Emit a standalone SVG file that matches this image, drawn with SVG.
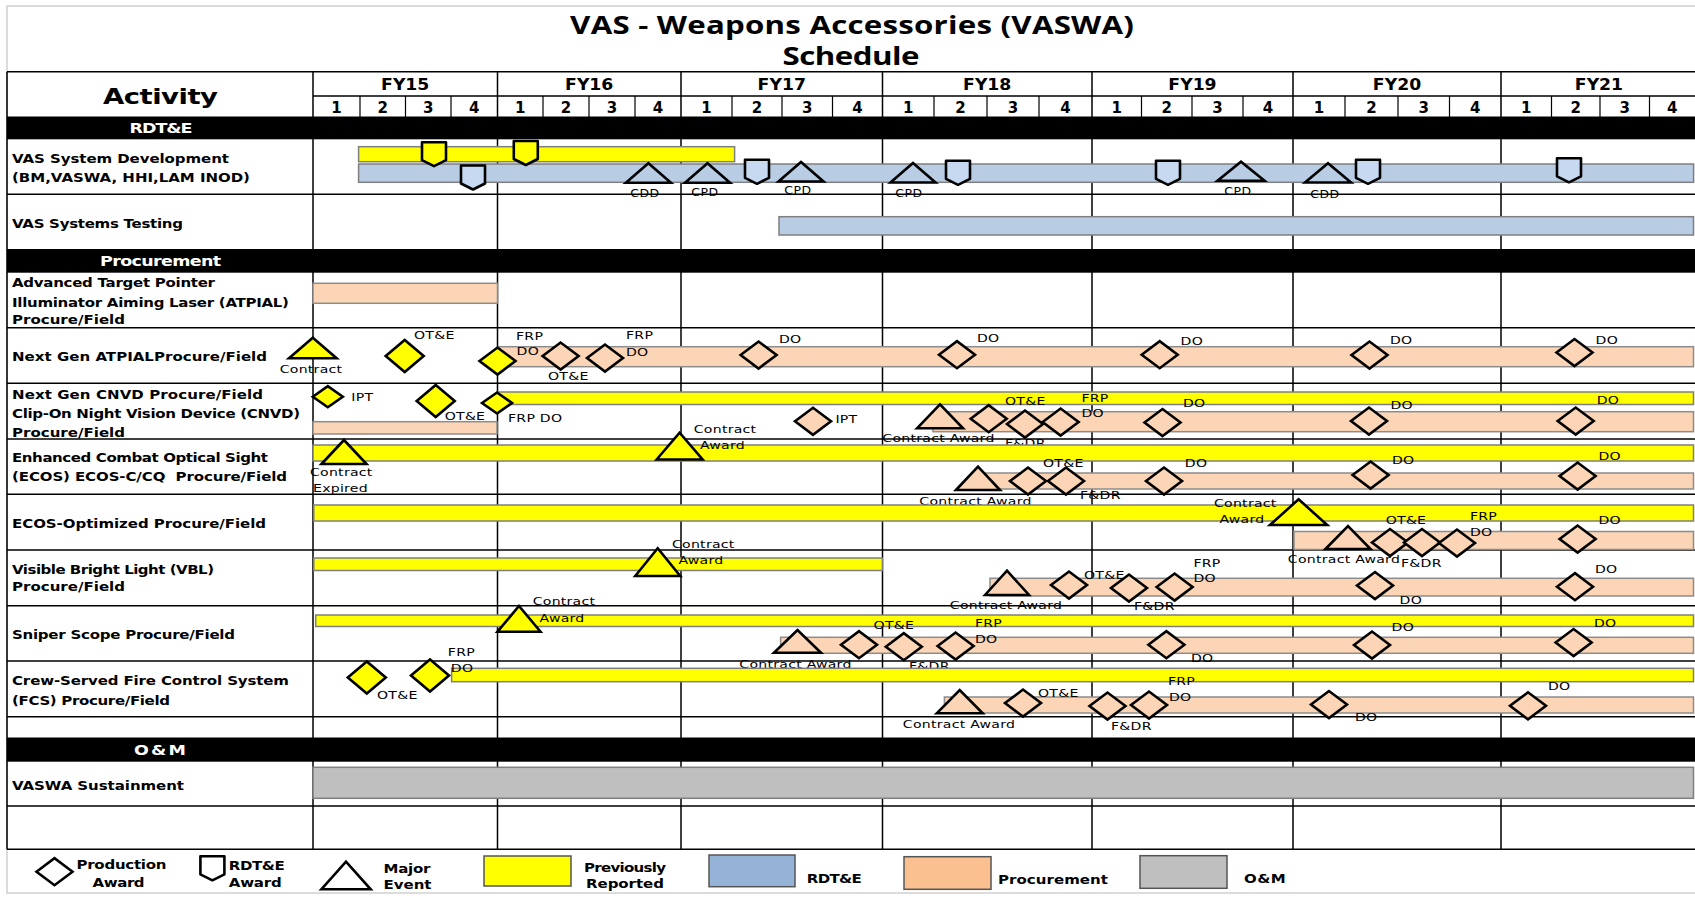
<svg xmlns="http://www.w3.org/2000/svg" width="1695" height="900" viewBox="0 0 1695 900">
<style>
text{font-family:"DejaVu Sans","Liberation Sans",sans-serif;fill:#000}
.ttl{font-family:"Open Sans","DejaVu Sans",sans-serif;font-weight:700;font-size:25px;text-anchor:middle}
.act{font-weight:700;font-size:22px;text-anchor:middle}
.fyl{font-weight:700;font-size:15px;text-anchor:middle;transform-box:fill-box;transform-origin:50% 50%;transform:scale(1.15,1)}
.q{font-weight:700;font-size:15px;text-anchor:middle}
.sec{font-weight:700;font-size:14px;text-anchor:middle;fill:#fff}
.lbl{font-weight:700;font-size:12px}
.sm{font-size:11px;letter-spacing:0.2px;transform-box:fill-box;transform-origin:0 0;transform:scale(1.28,1)}
.sm.mid{text-anchor:middle;transform-origin:50% 50%}
.xs{font-size:10px;letter-spacing:0.4px;text-anchor:middle;transform-box:fill-box;transform-origin:50% 50%;transform:scale(1.25,1)}
.mid{text-anchor:middle}
.lg{font-weight:700;font-size:12px}
.ttl,.act,.sec,.lbl,.lg{transform:scale(1.25,1)}
.ln{stroke:#000;stroke-width:1.5;fill:none}
.lq{stroke:#000;stroke-width:1.2;fill:none}
.by{fill:#ffff00;stroke:#7f7f7f;stroke-width:1.5}
.bb{fill:#b8cce4;stroke:#7f7f7f;stroke-width:1.5}
.bp{fill:#fbd5b5;stroke:#8c8c8c;stroke-width:1.5}
.bg{fill:#bfbfbf;stroke:#7f7f7f;stroke-width:1.5}
.mk{stroke:#000;stroke-width:2.6;stroke-linejoin:miter}
.sk{stroke:#000;stroke-width:2.6;stroke-linejoin:round}
.cy{fill:#ffff00}.cb{fill:#c6d9f1}.cbt{fill:#b8cce4}.cp{fill:#fbd5b5}.cw{fill:#fff}
</style>
<defs>
<path id="dp" d="M-18,0L0,-13.5L18,0L0,13.5Z" class="mk"/>
<path id="dy" d="M-19,0L0,-16L19,0L0,16Z" class="mk"/>
<path id="ds" d="M-15,0L0,-10.5L15,0L0,10.5Z" class="mk"/>
<path id="sh" d="M-12,-12H12V6L0,12L-12,6Z" class="sk"/>
</defs>

<g id="frame">
<rect x="7" y="6" width="1700" height="887" fill="#fff" stroke="#d0d0d0" stroke-width="1.5"/>
<text class="ttl" x="681.6" y="34.5" textLength="451">VAS - Weapons Accessories (VASWA)</text>
<text class="ttl" x="680.8" y="65.5" textLength="109.6">Schedule</text>
</g>

<g id="grid">
<path class="ln" d="M7,71.7H1700M313,96H1700M7,117.3H1700M7,194.3H1700M7,249.8H1700M7,327.7H1700M7,383.3H1700M7,439H1700M7,494.3H1700M7,550H1700M7,605.7H1700M7,661H1700M7,716.7H1700M7,738.3H1700M7,806H1700M7,849.3H1700"/>
<path class="ln" d="M7,71.7V849.3M313,71.7V849.3M497.5,71.7V849.3M681,71.7V849.3M882.5,71.7V849.3M1092,71.7V849.3M1293,71.7V849.3M1501,71.7V849.3"/>
<path class="lq" d="M360,96V117.3M405.5,96V117.3M451,96V117.3M543,96V117.3M589,96V117.3M635,96V117.3M732,96V117.3M782,96V117.3M832.5,96V117.3M934,96V117.3M987,96V117.3M1039,96V117.3M1141.5,96V117.3M1192,96V117.3M1243,96V117.3M1345,96V117.3M1398,96V117.3M1449.5,96V117.3M1551.5,96V117.3M1600,96V117.3M1649.5,96V117.3"/>
<rect x="7" y="117.3" width="1693" height="22" fill="#000"/>
<rect x="7" y="249.8" width="1693" height="22.9" fill="#000"/>
<rect x="7" y="738.3" width="1693" height="23.4" fill="#000"/>
</g>

<g id="header">
<text class="act" x="128.4" y="104" textLength="92">Activity</text>
<text class="fyl" x="405.25" y="90.5">FY15</text>
<text class="fyl" x="589.25" y="90.5">FY16</text>
<text class="fyl" x="781.75" y="90.5">FY17</text>
<text class="fyl" x="987.25" y="90.5">FY18</text>
<text class="fyl" x="1192.5" y="90.5">FY19</text>
<text class="fyl" x="1397" y="90.5">FY20</text>
<text class="fyl" x="1599" y="90.5">FY21</text>
<g class="q">
<text x="336.5" y="113">1</text><text x="382.75" y="113">2</text><text x="428.25" y="113">3</text><text x="474.25" y="113">4</text>
<text x="520.25" y="113">1</text><text x="566" y="113">2</text><text x="612" y="113">3</text><text x="658" y="113">4</text>
<text x="706.5" y="113">1</text><text x="757" y="113">2</text><text x="807.25" y="113">3</text><text x="857.5" y="113">4</text>
<text x="908.25" y="113">1</text><text x="960.5" y="113">2</text><text x="1013" y="113">3</text><text x="1065.5" y="113">4</text>
<text x="1116.75" y="113">1</text><text x="1166.75" y="113">2</text><text x="1217.5" y="113">3</text><text x="1268" y="113">4</text>
<text x="1319" y="113">1</text><text x="1371.5" y="113">2</text><text x="1423.75" y="113">3</text><text x="1475.25" y="113">4</text>
<text x="1526.25" y="113">1</text><text x="1575.75" y="113">2</text><text x="1624.75" y="113">3</text><text x="1672.25" y="113">4</text>
</g>
<text class="sec" x="128.8" y="133.5" textLength="50.4">RDT&amp;E</text>
<text class="sec" x="128.5" y="266" textLength="96.8">Procurement</text>
<text class="sec" x="128" y="755" textLength="41.6">O&amp;M</text>
</g>

<g id="row-vas-dev">
<text class="lbl" x="9.6" y="163" textLength="173.6">VAS System Development</text>
<text class="lbl" x="9.6" y="182" textLength="190.4">(BM,VASWA, HHI,LAM INOD)</text>
<rect class="by" x="358.6" y="146.7" width="376" height="15"/>
<rect class="bb" x="358.6" y="164" width="1335" height="18.3"/>
<use href="#sh" x="434" y="154.2" class="cy"/>
<use href="#sh" x="525.8" y="153" class="cy"/>
<use href="#sh" x="473" y="177.5" class="cb"/>
<polygon class="mk cbt" points="625.9,182.7 648.4,163.3 670.9,182.7"/>
<polygon class="mk cbt" points="685,182.7 707.5,163.3 730,182.7"/>
<use href="#sh" x="757" y="171.8" class="cb"/>
<polygon class="mk cbt" points="778.5,181.5 801,162 823.5,181.5"/>
<polygon class="mk cbt" points="890.5,182.5 913,163 935.5,182.5"/>
<use href="#sh" x="958" y="172.8" class="cb"/>
<use href="#sh" x="1168" y="172.8" class="cb"/>
<polygon class="mk cbt" points="1217.5,180.7 1241,161.7 1264.5,180.7"/>
<polygon class="mk cbt" points="1305,182.5 1328,163.3 1351,182.5"/>
<use href="#sh" x="1368" y="171.8" class="cb"/>
<use href="#sh" x="1569" y="170.3" class="cb"/>
<text class="xs" x="645" y="197.5">CDD</text>
<text class="xs" x="705" y="196.5">CPD</text>
<text class="xs" x="798" y="194">CPD</text>
<text class="xs" x="909" y="197">CPD</text>
<text class="xs" x="1238" y="195">CPD</text>
<text class="xs" x="1325" y="198">CDD</text>
</g>

<g id="row-vas-test">
<text class="lbl" x="9.6" y="228" textLength="136.8">VAS Systems Testing</text>
<rect class="bb" x="779" y="216.7" width="914.5" height="18.3"/>
</g>

<g id="row-atpial">
<text class="lbl" x="9.6" y="287.5" textLength="162.4">Advanced Target Pointer</text>
<text class="lbl" x="9.6" y="307" textLength="221.6">Illuminator Aiming Laser (ATPIAL)</text>
<text class="lbl" x="9.6" y="324" textLength="90.4">Procure/Field</text>
<rect class="bp" x="313" y="283.3" width="184.5" height="20"/>
</g>

<g id="row-ng-atpial">
<text class="lbl" x="9.6" y="361.5" textLength="204">Next Gen ATPIALProcure/Field</text>
<rect class="bp" x="497.5" y="346.7" width="1196" height="20"/>
<polygon class="mk cy" points="289,358.3 312.8,337.7 336.6,358.3"/>
<use href="#dy" x="404.7" y="356" class="cy"/>
<use href="#dp" x="497.5" y="361" class="cy"/>
<use href="#dp" x="560.6" y="356" class="cp"/>
<use href="#dp" x="605" y="358" class="cp"/>
<use href="#dp" x="758.6" y="355" class="cp"/>
<use href="#dp" x="957" y="354.7" class="cp"/>
<use href="#dp" x="1159.7" y="354.7" class="cp"/>
<use href="#dp" x="1369.5" y="355" class="cp"/>
<use href="#dp" x="1574.5" y="352.5" class="cp"/>
<text class="sm mid" x="311" y="373.3">Contract</text>
<text class="sm" x="414" y="339.3">OT&amp;E</text>
<text class="sm" x="516" y="340">FRP</text>
<text class="sm" x="516.6" y="355">DO</text>
<text class="sm" x="548" y="380">OT&amp;E</text>
<text class="sm" x="626" y="339.3">FRP</text>
<text class="sm" x="626" y="356">DO</text>
<text class="sm" x="779" y="342.7">DO</text>
<text class="sm" x="977" y="341.7">DO</text>
<text class="sm" x="1180.6" y="345">DO</text>
<text class="sm" x="1390" y="344">DO</text>
<text class="sm" x="1595.6" y="344">DO</text>
</g>

<g id="row-cnvd">
<text class="lbl" x="9.6" y="399" textLength="200.8">Next Gen CNVD Procure/Field</text>
<text class="lbl" x="9.6" y="418" textLength="230.4">Clip-On Night Vision Device (CNVD)</text>
<text class="lbl" x="9.6" y="436.7" textLength="90.4">Procure/Field</text>
<rect class="by" x="497.5" y="392" width="1196" height="12.5"/>
<rect class="bp" x="313" y="421.7" width="184" height="12.3"/>
<rect class="bp" x="933" y="411.7" width="760.5" height="20"/>
<use href="#ds" x="327.8" y="396.7" class="cy"/>
<use href="#dy" x="435.7" y="401" class="cy"/>
<use href="#ds" x="497" y="403" class="cy"/>
<use href="#dp" x="813" y="421.3" class="cp"/>
<polygon class="mk cp" points="917,428.3 940,404.3 963,428.3"/>
<use href="#dp" x="988.7" y="418.7" class="cp"/>
<use href="#dp" x="1025" y="424" class="cp"/>
<use href="#dp" x="1060.6" y="422" class="cp"/>
<use href="#dp" x="1162.5" y="422.5" class="cp"/>
<use href="#dp" x="1369" y="421" class="cp"/>
<use href="#dp" x="1575.7" y="421" class="cp"/>
<text class="sm" x="351.3" y="400.7">IPT</text>
<text class="sm" x="444.7" y="420">OT&amp;E</text>
<text class="sm" x="508" y="421.7">FRP DO</text>
<text class="sm" x="835.4" y="422.7">IPT</text>
<text class="sm mid" x="938.5" y="441.7">Contract Award</text>
<text class="sm" x="1005" y="405">OT&amp;E</text>
<text class="sm" x="1005" y="447.3">F&amp;DR</text>
<text class="sm" x="1081.4" y="402.3">FRP</text>
<text class="sm" x="1081.4" y="417.3">DO</text>
<text class="sm" x="1183" y="406.7">DO</text>
<text class="sm" x="1390.5" y="409.3">DO</text>
<text class="sm" x="1596.7" y="404.3">DO</text>
</g>

<g id="row-ecos">
<text class="lbl" x="9.6" y="462.5" textLength="204.8">Enhanced Combat Optical Sight</text>
<text class="lbl" x="9.6" y="481" textLength="220">(ECOS) ECOS-C/CQ&#160; Procure/Field</text>
<rect class="by" x="313" y="445" width="1380.5" height="16"/>
<rect class="bp" x="982" y="473" width="711.5" height="16"/>
<polygon class="mk cy" points="321.5,464 344,440 366.5,464"/>
<polygon class="mk cy" points="656.6,459.5 679.6,432.7 702.6,459.5"/>
<polygon class="mk cp" points="956,490 978,466.7 1000,490"/>
<use href="#dp" x="1028" y="481" class="cp"/>
<use href="#dp" x="1066" y="481" class="cp"/>
<use href="#dp" x="1164" y="481" class="cp"/>
<use href="#dp" x="1370.6" y="475" class="cp"/>
<use href="#dp" x="1577.6" y="476" class="cp"/>
<text class="sm" x="310" y="476">Contract</text>
<text class="sm" x="313" y="491.7">Expired</text>
<text class="sm" x="693.8" y="433.3">Contract</text>
<text class="sm" x="700" y="449.3">Award</text>
<text class="sm mid" x="975.5" y="505">Contract Award</text>
<text class="sm" x="1043" y="467.3">OT&amp;E</text>
<text class="sm" x="1080" y="499">F&amp;DR</text>
<text class="sm" x="1184.8" y="466.7">DO</text>
<text class="sm" x="1392" y="464">DO</text>
<text class="sm" x="1598.4" y="460">DO</text>
</g>

<g id="row-ecos-opt">
<text class="lbl" x="9.6" y="528" textLength="203.2">ECOS-Optimized Procure/Field</text>
<rect class="by" x="313.8" y="505" width="1379.7" height="16"/>
<rect class="bp" x="1294" y="531.5" width="399.5" height="18"/>
<polygon class="mk cy" points="1270,525 1298.6,499.3 1327.2,525"/>
<polygon class="mk cp" points="1325.5,549 1348,526 1370.5,549"/>
<use href="#dp" x="1390" y="542.5" class="cp"/>
<use href="#dp" x="1422" y="542.5" class="cp"/>
<use href="#dp" x="1457" y="543" class="cp"/>
<use href="#dp" x="1577.6" y="539" class="cp"/>
<text class="sm" x="1214" y="507.3">Contract</text>
<text class="sm" x="1219.5" y="522.7">Award</text>
<text class="sm mid" x="1344" y="563.3">Contract Award</text>
<text class="sm" x="1385.7" y="524">OT&amp;E</text>
<text class="sm" x="1401" y="567.3">F&amp;DR</text>
<text class="sm" x="1470" y="520">FRP</text>
<text class="sm" x="1470" y="536">DO</text>
<text class="sm" x="1598.4" y="524">DO</text>
</g>

<g id="row-vbl">
<text class="lbl" x="9.6" y="574" textLength="161.6">Visible Bright Light (VBL)</text>
<text class="lbl" x="9.6" y="591.5" textLength="90.4">Procure/Field</text>
<rect class="by" x="313.8" y="558" width="568.6" height="12.5"/>
<rect class="bp" x="990" y="578.3" width="703.5" height="17.7"/>
<polygon class="mk cy" points="635.2,576 657.7,548.3 680.2,576"/>
<polygon class="mk cp" points="985,595 1007,570.7 1029,595"/>
<use href="#dp" x="1069" y="585" class="cp"/>
<use href="#dp" x="1129" y="588" class="cp"/>
<use href="#dp" x="1174.6" y="587" class="cp"/>
<use href="#dp" x="1375" y="585.5" class="cp"/>
<use href="#dp" x="1575" y="586.7" class="cp"/>
<text class="sm" x="672" y="548.3">Contract</text>
<text class="sm" x="678.5" y="564.3">Award</text>
<text class="sm mid" x="1006" y="609">Contract Award</text>
<text class="sm" x="1084" y="579">OT&amp;E</text>
<text class="sm" x="1134" y="610">F&amp;DR</text>
<text class="sm" x="1193.5" y="567.3">FRP</text>
<text class="sm" x="1193.5" y="582.3">DO</text>
<text class="sm" x="1399.6" y="604">DO</text>
<text class="sm" x="1595" y="572.7">DO</text>
</g>

<g id="row-sniper">
<text class="lbl" x="9.6" y="639" textLength="178.4">Sniper Scope Procure/Field</text>
<rect class="by" x="315.7" y="615" width="1377.8" height="11.5"/>
<rect class="bp" x="780.6" y="637.3" width="912.9" height="16"/>
<polygon class="mk cy" points="497.5,631.7 519,606 540.5,631.7"/>
<polygon class="mk cp" points="774,652.7 797.5,630 821,652.7"/>
<use href="#dp" x="859" y="644.7" class="cp"/>
<use href="#dp" x="903.8" y="646.7" class="cp"/>
<use href="#dp" x="955.6" y="646" class="cp"/>
<use href="#dp" x="1166.4" y="644.7" class="cp"/>
<use href="#dp" x="1372" y="645" class="cp"/>
<use href="#dp" x="1573.6" y="642.5" class="cp"/>
<text class="sm" x="532.7" y="605">Contract</text>
<text class="sm" x="539.6" y="621.7">Award</text>
<text class="sm mid" x="795.5" y="668.3">Contract Award</text>
<text class="sm" x="873.6" y="629">OT&amp;E</text>
<text class="sm" x="909" y="670">F&amp;DR</text>
<text class="sm" x="975" y="626.7">FRP</text>
<text class="sm" x="975" y="643.3">DO</text>
<text class="sm" x="1191" y="661.7">DO</text>
<text class="sm" x="1391.6" y="630.7">DO</text>
<text class="sm" x="1594" y="627.3">DO</text>
</g>

<g id="row-fcs">
<text class="lbl" x="9.6" y="685" textLength="221.6">Crew-Served Fire Control System</text>
<text class="lbl" x="9.6" y="705" textLength="126.4">(FCS) Procure/Field</text>
<rect class="by" x="451.6" y="668.3" width="1241.9" height="13.4"/>
<rect class="bp" x="944.4" y="697" width="749.1" height="16"/>
<use href="#dy" x="366.8" y="677.5" class="cy"/>
<use href="#dy" x="430" y="675.5" class="cy"/>
<polygon class="mk cp" points="936.7,713.3 959.7,690 982.7,713.3"/>
<use href="#dp" x="1023" y="703" class="cp"/>
<use href="#dp" x="1107.5" y="706" class="cp"/>
<use href="#dp" x="1149" y="705" class="cp"/>
<use href="#dp" x="1329" y="704.5" class="cp"/>
<use href="#dp" x="1528" y="705.8" class="cp"/>
<text class="sm" x="377" y="699.3">OT&amp;E</text>
<text class="sm" x="447.8" y="656">FRP</text>
<text class="sm" x="450.8" y="671.7">DO</text>
<text class="sm mid" x="959" y="728.3">Contract Award</text>
<text class="sm" x="1038" y="697.3">OT&amp;E</text>
<text class="sm" x="1111" y="730">F&amp;DR</text>
<text class="sm" x="1168" y="685">FRP</text>
<text class="sm" x="1169" y="700.7">DO</text>
<text class="sm" x="1355" y="720.7">DO</text>
<text class="sm" x="1548" y="690">DO</text>
</g>

<g id="row-sustain">
<text class="lbl" x="9.6" y="790" textLength="137.6">VASWA Sustainment</text>
<rect class="bg" x="313" y="767.3" width="1380.5" height="31"/>
</g>

<g id="legend">
<use href="#dp" x="54.5" y="871.7" class="cw"/>
<text class="lg" x="61.2" y="869.3" textLength="72">Production</text>
<text class="lg mid" x="94.9" y="886.7" textLength="41.6">Award</text>
<use href="#sh" x="212.4" y="868.3" class="cw"/>
<text class="lg" x="183" y="870" textLength="44.8">RDT&amp;E</text>
<text class="lg" x="183" y="887" textLength="42.4">Award</text>
<polygon class="mk cw" points="321.3,889.3 346,861.7 370.7,889.3"/>
<text class="lg" x="306.8" y="872.7" textLength="37.6">Major</text>
<text class="lg" x="306.8" y="889" textLength="38.4">Event</text>
<rect x="484" y="856" width="87" height="30" fill="#ffff00" stroke="#555" stroke-width="1.5"/>
<text class="lg mid" x="500" y="871.7" textLength="65.6">Previously</text>
<text class="lg mid" x="500" y="888" textLength="62.4">Reported</text>
<rect x="709" y="855" width="86" height="31.7" fill="#95b3d7" stroke="#555" stroke-width="1.5"/>
<text class="lg" x="645.4" y="883" textLength="44">RDT&amp;E</text>
<rect x="904" y="856.7" width="87" height="32.6" fill="#fac090" stroke="#555" stroke-width="1.5"/>
<text class="lg" x="798.4" y="884" textLength="88">Procurement</text>
<rect x="1140" y="855.7" width="87" height="32.6" fill="#bfbfbf" stroke="#555" stroke-width="1.5"/>
<text class="lg" x="995.2" y="883" textLength="33.3">O&amp;M</text>
</g>
</svg>
